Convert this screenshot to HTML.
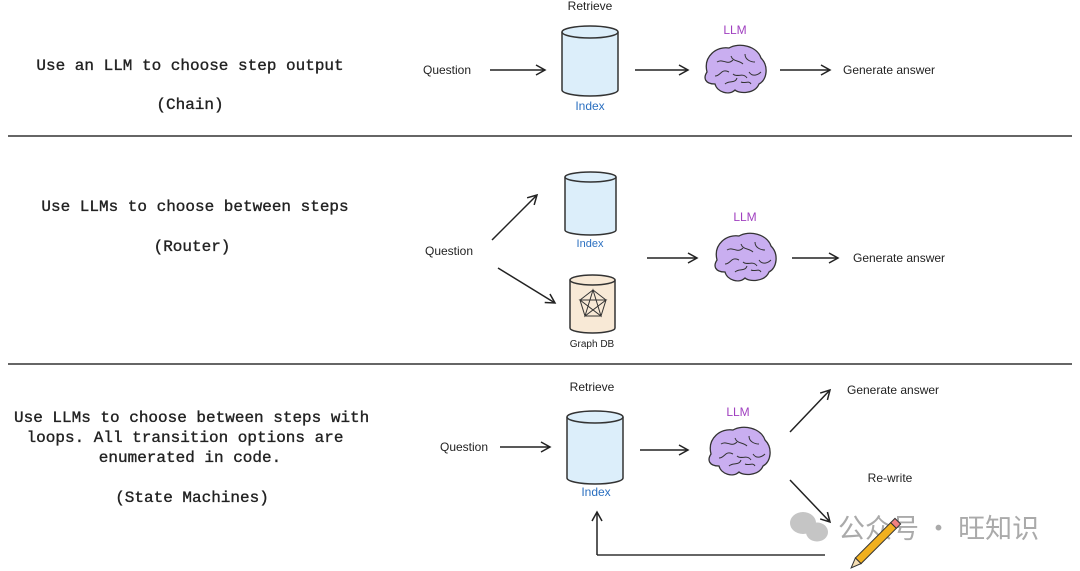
<!DOCTYPE html>
<html><head><meta charset="utf-8"><style>
html,body{margin:0;padding:0;background:#fff;}
svg{display:block}
.m{font-family:"Liberation Mono",monospace;font-size:16px;fill:#222;stroke:#222;stroke-width:0.35;}
.h{font-family:"Liberation Sans",sans-serif;font-size:12px;fill:#222;}
</style></head><body>
<svg width="1080" height="571" viewBox="0 0 1080 571" xmlns="http://www.w3.org/2000/svg">
<defs>
<marker id="a" markerWidth="12" markerHeight="12" refX="10" refY="6" orient="auto" markerUnits="userSpaceOnUse">
<path d="M1,1 L10,6 L1,11" fill="none" stroke="#222" stroke-width="1.5"/></marker>
<g id="brain">
<path d="M-28,2 C-32,-14 -18,-24 -6,-22 C4,-28 22,-24 26,-12 C34,-4 32,10 24,14 C20,24 4,24 0,20 C-6,26 -18,22 -20,14 C-30,14 -32,8 -28,2Z" fill="#c9aef0" stroke="#333" stroke-width="1.3"/>
<path d="M-18,-8 c6,-4 10,4 16,-2 M-4,-14 c2,6 8,4 12,8 M10,-16 c0,6 6,8 10,8 M-20,6 c6,0 6,-8 14,-4 M-2,4 c4,4 10,-2 14,4 M14,2 c4,6 10,2 12,0 M-10,14 c4,-4 10,0 12,-6 M6,12 c4,2 8,-2 10,2" fill="none" stroke="#333" stroke-width="1"/>
</g>
</defs>
<line x1="8" y1="136" x2="1072" y2="136" stroke="#333" stroke-width="1.5"/>
<line x1="8" y1="364" x2="1072" y2="364" stroke="#333" stroke-width="1.5"/>

<text class="m" x="190" y="70" text-anchor="middle">Use an LLM to choose step output</text>
<text class="m" x="190" y="109" text-anchor="middle">(Chain)</text>
<text class="h" x="447" y="74" text-anchor="middle">Question</text>
<line x1="490" y1="70" x2="545" y2="70" stroke="#222" stroke-width="1.5" marker-end="url(#a)"/>
<text class="h" x="590" y="10" text-anchor="middle">Retrieve</text>
<path d="M562,32 V90 A28,6 0 0 0 618,90 V32" fill="#dceefa" stroke="#333" stroke-width="1.5"/>
<ellipse cx="590" cy="32" rx="28" ry="6" fill="#dceefa" stroke="#333" stroke-width="1.5"/>
<text class="h" x="590" y="110" text-anchor="middle" style="fill:#2a6fc0">Index</text>
<line x1="635" y1="70" x2="688" y2="70" stroke="#222" stroke-width="1.5" marker-end="url(#a)"/>
<text class="h" x="735" y="34" text-anchor="middle" style="fill:#a040c0">LLM</text>
<use href="#brain" x="735" y="70"/>
<line x1="780" y1="70" x2="830" y2="70" stroke="#222" stroke-width="1.5" marker-end="url(#a)"/>
<text class="h" x="843" y="74">Generate answer</text>

<text class="m" x="195" y="211" text-anchor="middle">Use LLMs to choose between steps</text>
<text class="m" x="192" y="251" text-anchor="middle">(Router)</text>
<text class="h" x="449" y="255" text-anchor="middle">Question</text>
<line x1="492" y1="240" x2="537" y2="195" stroke="#222" stroke-width="1.5" marker-end="url(#a)"/>
<line x1="498" y1="268" x2="555" y2="303" stroke="#222" stroke-width="1.5" marker-end="url(#a)"/>
<path d="M565,177 V230 A25.5,5 0 0 0 616,230 V177" fill="#dceefa" stroke="#333" stroke-width="1.5"/>
<ellipse cx="590.5" cy="177" rx="25.5" ry="5" fill="#dceefa" stroke="#333" stroke-width="1.5"/>
<text class="h" x="590" y="247" text-anchor="middle" style="fill:#2a6fc0;font-size:11px">Index</text>
<path d="M570,280 V328 A22.5,5 0 0 0 615,328 V280" fill="#f8e9d6" stroke="#333" stroke-width="1.5"/>
<ellipse cx="592.5" cy="280" rx="22.5" ry="5" fill="#f8e9d6" stroke="#333" stroke-width="1.5"/>
<g stroke="#333" stroke-width="1" fill="none"><polygon points="593,290 606,300 601,316 585,316 580,300"/><path d="M593,290 L601,316 L580,300 L606,300 L585,316 Z"/></g>
<text class="h" x="592" y="347" text-anchor="middle" style="font-size:10px">Graph DB</text>
<line x1="647" y1="258" x2="697" y2="258" stroke="#222" stroke-width="1.5" marker-end="url(#a)"/>
<text class="h" x="745" y="221" text-anchor="middle" style="fill:#a040c0">LLM</text>
<use href="#brain" x="745" y="258"/>
<line x1="792" y1="258" x2="838" y2="258" stroke="#222" stroke-width="1.5" marker-end="url(#a)"/>
<text class="h" x="853" y="262">Generate answer</text>

<text class="m" x="14" y="422">Use LLMs to choose between steps with</text>
<text class="m" x="185" y="442" text-anchor="middle">loops. All transition options are</text>
<text class="m" x="190" y="462" text-anchor="middle">enumerated in code.</text>
<text class="m" x="192" y="502" text-anchor="middle">(State Machines)</text>
<text class="h" x="592" y="391" text-anchor="middle">Retrieve</text>
<text class="h" x="464" y="451" text-anchor="middle">Question</text>
<line x1="500" y1="447" x2="550" y2="447" stroke="#222" stroke-width="1.5" marker-end="url(#a)"/>
<path d="M567,417 V478 A28,6 0 0 0 623,478 V417" fill="#dceefa" stroke="#333" stroke-width="1.5"/>
<ellipse cx="595" cy="417" rx="28" ry="6" fill="#dceefa" stroke="#333" stroke-width="1.5"/>
<text class="h" x="596" y="496" text-anchor="middle" style="fill:#2a6fc0">Index</text>
<line x1="640" y1="450" x2="688" y2="450" stroke="#222" stroke-width="1.5" marker-end="url(#a)"/>
<text class="h" x="738" y="416" text-anchor="middle" style="fill:#a040c0">LLM</text>
<use href="#brain" x="739" y="452"/>
<line x1="790" y1="432" x2="830" y2="390" stroke="#222" stroke-width="1.5" marker-end="url(#a)"/>
<text class="h" x="847" y="394">Generate answer</text>
<text class="h" x="890" y="482" text-anchor="middle">Re-write</text>
<line x1="790" y1="480" x2="830" y2="522" stroke="#222" stroke-width="1.5" marker-end="url(#a)"/>
<line x1="825" y1="555" x2="597" y2="555" stroke="#333" stroke-width="1.5"/>
<line x1="597" y1="555" x2="597" y2="512" stroke="#222" stroke-width="1.5" marker-end="url(#a)"/>
<!-- watermark -->
<g fill="#bbb" opacity="0.85">
<ellipse cx="803" cy="523" rx="13" ry="11"/><ellipse cx="817" cy="532" rx="11" ry="9.5"/>
</g>
<text x="838" y="538" style="font-family:'Noto Sans CJK SC',sans-serif;font-size:27px;fill:#aaa">公众号 · 旺知识</text>
<g transform="translate(878,541) rotate(-45)">
<rect x="-28" y="-4" width="50" height="8" fill="#f0b020" stroke="#333" stroke-width="1"/>
<rect x="22" y="-4" width="6" height="8" fill="#f08080" stroke="#333" stroke-width="1"/>
<path d="M-28,-4 L-38,0 L-28,4Z" fill="#f5deb3" stroke="#333" stroke-width="1"/>
</g>
</svg>
</body></html>
